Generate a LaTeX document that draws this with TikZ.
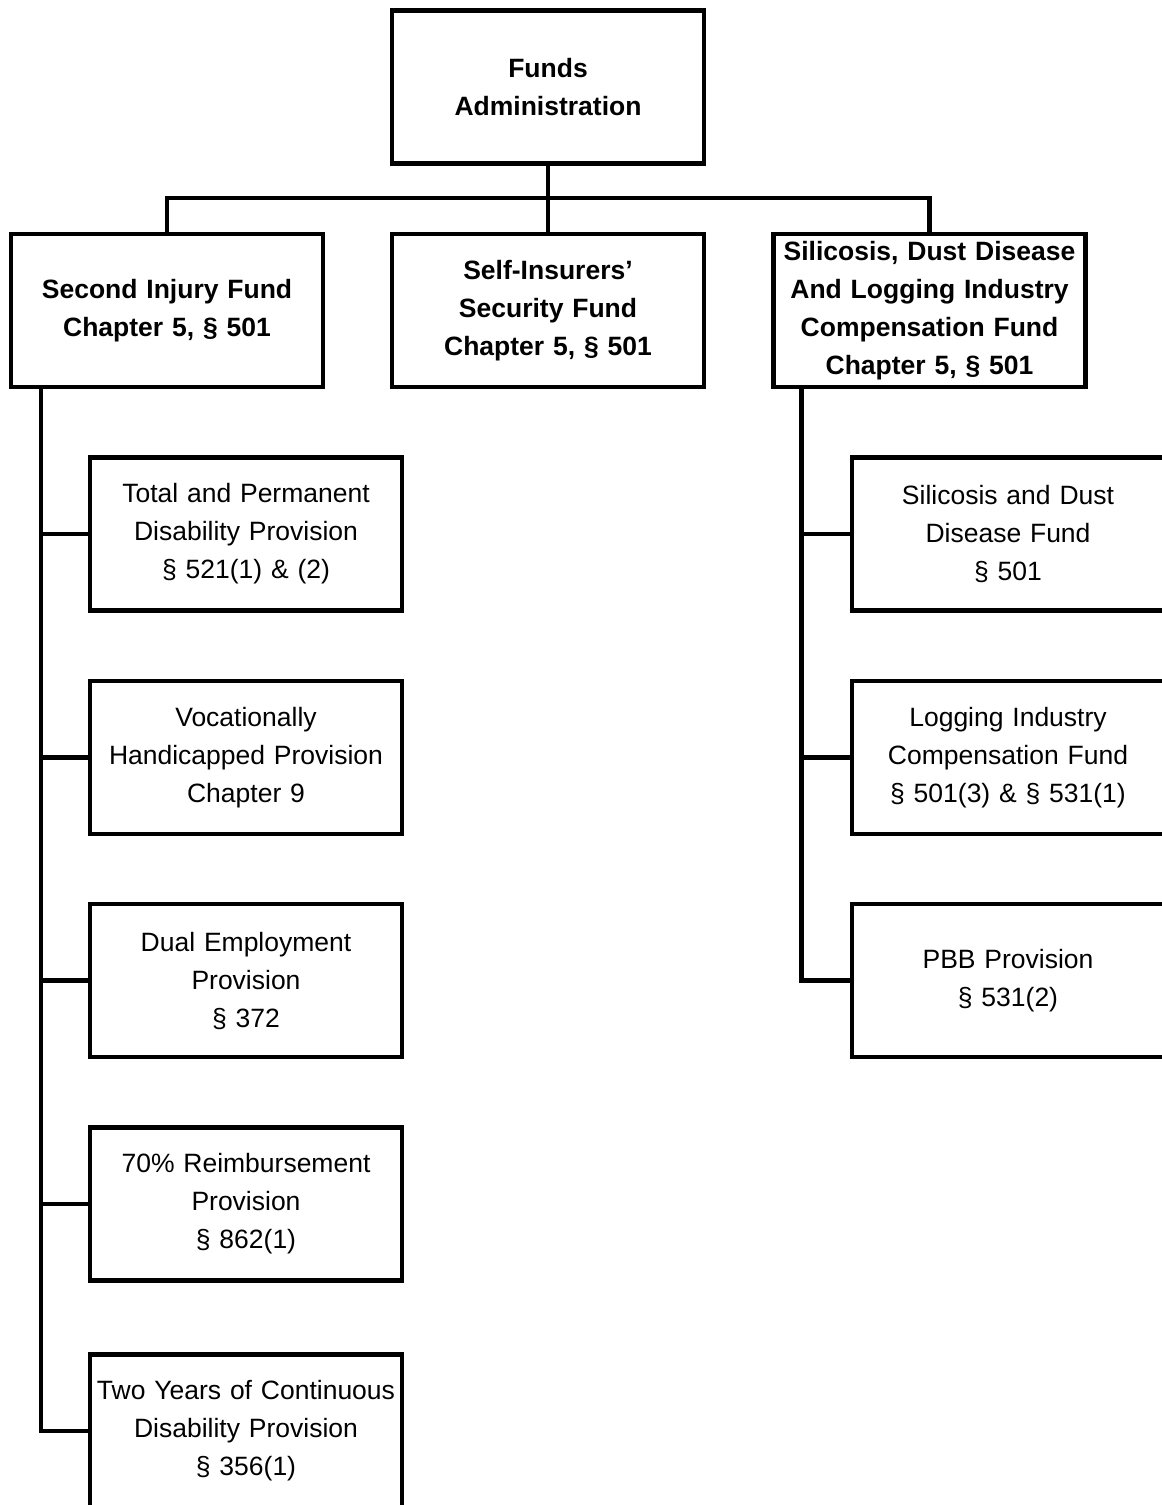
\documentclass[tikz,border=0pt]{standalone}
\usepackage{fontspec}
\setmainfont{Liberation Sans}
\usepackage{tikz}
\tikzstyle{unit}=[draw,line width=4.5pt,minimum width=312pt,minimum height=153pt,inner sep=0pt,text width=306pt,align=center,font=\fontsize{26.5}{38}\selectfont]
\tikzstyle{head unit} = [unit, font=\fontsize{26.5}{38}\selectfont\bfseries]
\tikzstyle{link} = [draw,line width=4.5pt,line join=miter]

\begin{document}
\begin{tikzpicture}[x=1pt,y=-1pt]
  \useasboundingbox (0,0) rectangle (1162,1505);
  \clip (0,0) rectangle (1162,1505);
    % Top of the chart and the three funds
    \node[head unit] (fa) at (548,87) {Funds\\Administration};
    \foreach \pos/\name/\text in {{(167,310.5)/sec/{Second Injury Fund\\Chapter 5, § 501}},
                                  {(548,310.5)/sif/{Self-Insurers’\\Security Fund\\Chapter 5, § 501}},
                                  {(929.5,310.5)/sil/{Silicosis, Dust Disease\\And Logging Industry\\Compensation Fund\\Chapter 5, § 501}}}
        \node[head unit] (\name) at \pos {\text};
    \coordinate (bus) at (548,198);
    \path[link] (fa.south) -- (sif.north);
    \path[link] (sec.north) |- (bus) -| (sil.north);
    % Provisions under the second injury fund
    \foreach \pos/\name/\text in {{(246,534)/t1/{Total and Permanent\\Disability Provision\\§ 521(1) \& (2)}},
                                  {(246,757.5)/t2/{Vocationally\\Handicapped Provision\\Chapter 9}},
                                  {(246,980.5)/t3/{Dual Employment\\Provision\\§ 372}},
                                  {(246,1204)/t4/{70\% Reimbursement\\Provision\\§ 862(1)}},
                                  {(246,1431)/t5/{Two Years of Continuous\\Disability Provision\\§ 356(1)}}}
        \node[unit] (\name) at \pos {\text};
    \foreach \name in {t1,t2,t3,t4,t5}
        \path[link] ([xshift=32pt]sec.south west) |- (\name.west);
    % Funds under silicosis, dust disease and logging
    \foreach \pos/\name/\text in {{(1008,534)/s1/{Silicosis and Dust\\Disease Fund\\§ 501}},
                                  {(1008,757.5)/s2/{Logging Industry\\Compensation Fund\\§ 501(3) \& § 531(1)}},
                                  {(1008,980.5)/s3/{PBB Provision\\§ 531(2)}}}
        \node[unit] (\name) at \pos {\text};
    \foreach \name in {s1,s2,s3}
        \path[link] ([xshift=30pt]sil.south west) |- (\name.west);
\end{tikzpicture}
\end{document}
